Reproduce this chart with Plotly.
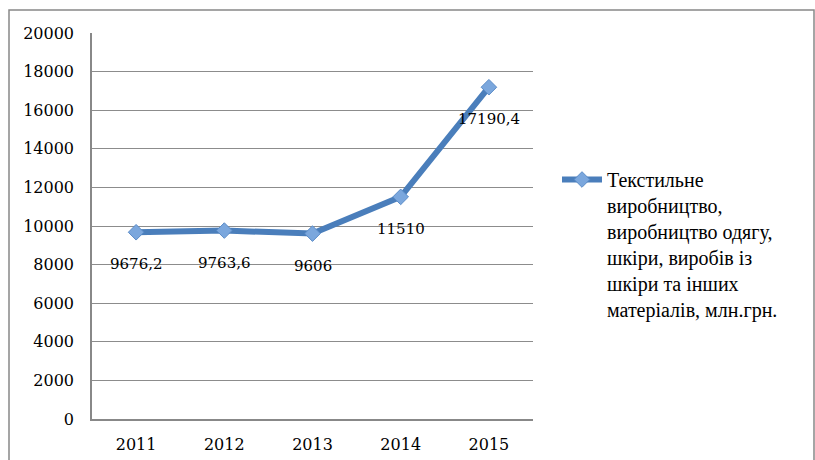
import plotly.graph_objects as go

years = [2011, 2012, 2013, 2014, 2015]
year_labels = ["2011", "2012", "2013", "2014", "2015"]
values = [9676.2, 9763.6, 9606, 11510, 17190.4]
labels = ["9676,2", "9763,6", "9606", "11510", "17190,4"]
series_name = ("Текстильне<br>виробництво,<br>виробництво одягу,<br>"
               "шкіри, виробів із<br>шкіри та інших<br>матеріалів, млн.грн.")
y_ticks = list(range(0, 20001, 2000))
y_tick_text = [str(v) for v in y_ticks]

W, H = 815, 460
L, R, T, B = 92, 533, 33, 419
pw, ph = R - L, B - T

def px_x(x):
    return (x - L) / pw

def px_y(y):
    return (B - y) / ph

fig = go.Figure()
fig.add_trace(go.Scatter(
    x=years, y=values, mode="lines+markers", name=series_name,
    line=dict(color="#4A7EBB", width=6),
    marker=dict(symbol="diamond", size=12, color="#7BA7DD",
                line=dict(color="#5B8CC8", width=1)),
))

for xv, yv, t in zip(years, values, labels):
    fig.add_annotation(x=xv, y=yv, text=t, showarrow=False, yshift=-32,
                       font=dict(family="DejaVu Serif", size=15, color="#000000"))

fig.add_shape(type="rect", xref="paper", yref="paper",
              x0=px_x(9), x1=px_x(814), y0=px_y(10), y1=px_y(475),
              line=dict(color="#888888", width=1.5), fillcolor="rgba(0,0,0,0)",
              layer="below")

fig.update_layout(
    width=W, height=H,
    margin=dict(l=L, r=W - R, t=T, b=H - B, pad=0, autoexpand=False),
    paper_bgcolor="white", plot_bgcolor="white",
    font=dict(family="DejaVu Serif", size=16, color="#000000"),
    showlegend=True,
    legend=dict(x=px_x(557), y=px_y(160), xanchor="left", yanchor="top",
                valign="top", itemwidth=40,
                font=dict(family="Liberation Serif", size=20, color="#000000"),
                bgcolor="rgba(0,0,0,0)"),
    xaxis=dict(range=[2010.5, 2015.5], tickvals=years, ticktext=year_labels,
               showgrid=False, showline=True, automargin=False,
               linecolor="#888888", linewidth=1.5,
               ticks="", ticklabelstandoff=10, zeroline=False),
    yaxis=dict(range=[0, 20000], tickvals=y_ticks, ticktext=y_tick_text,
               showgrid=True, gridcolor="#8c8c8c", gridwidth=1, showline=True,
               automargin=False, linecolor="#888888", linewidth=1.5, ticks="",
               ticklabelstandoff=13, zeroline=False),
)

fig.write_html("out.html", config={"displayModeBar": False},
               post_script="document.body.style.margin='0';")
